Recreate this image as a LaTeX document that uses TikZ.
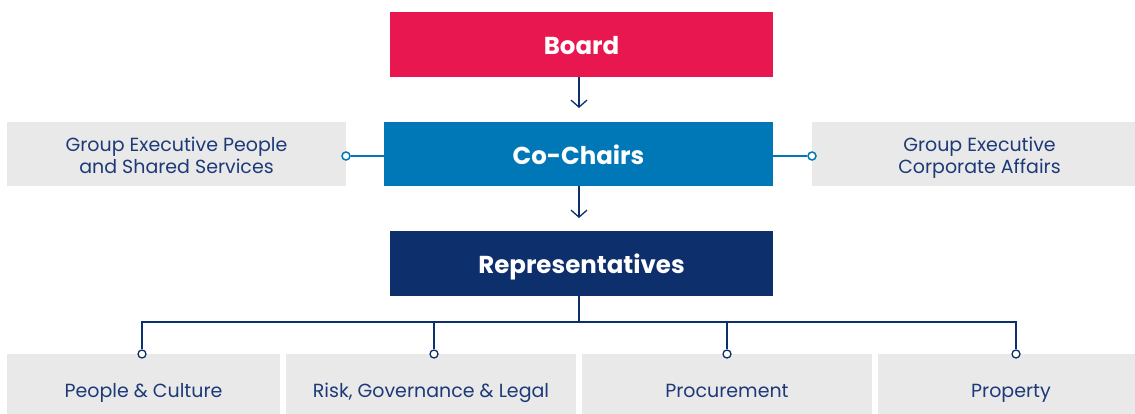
\documentclass[tikz,border=0pt]{standalone}
\usepackage{fontspec}
\setmainfont{Poppins}
\usetikzlibrary{arrows.meta}
\usetikzlibrary{positioning}
\definecolor{boardred}{HTML}{E8174F}
\definecolor{chairblue}{HTML}{0077B6}
\definecolor{repnavy}{HTML}{0D2F6B}
\definecolor{boxgrey}{HTML}{E9E9E9}
\definecolor{textnavy}{HTML}{1D3A78}
\newcommand{\sidetop}{\rule{0pt}{24pt}}
\newcommand{\sidebot}{\rule[-6.6pt]{0pt}{1pt}}
\tikzset{
   headbox/.style={minimum height=65pt, inner sep=0pt, text=white,
      text height=20.5pt, text depth=0pt,
      font=\fontsize{24.5}{28}\selectfont\bfseries},
   sidebox/.style={fill=boxgrey, minimum height=64pt, inner sep=0pt, text=textnavy,
      align=center, font=\fontsize{19}{21.6}\selectfont},
   unitbox/.style={fill=boxgrey, minimum height=68pt, inner sep=0pt, text=textnavy,
      text height=18.5pt, text depth=0pt,
      font=\fontsize{19}{21}\selectfont},
   downarrow/.style={draw=repnavy, line width=1.3pt,
      -{Straight Barb[length=7pt,width=16pt,line width=1.3pt]}},
   sidelink/.style={draw=chairblue, line width=1.5pt},
   unitlink/.style={draw=repnavy, line width=1.3pt},
   sidedot/.style={circle, draw=chairblue, line width=1.5pt, fill=white,
      minimum size=8pt, inner sep=0pt},
   unitdot/.style={circle, draw=repnavy, line width=1.3pt, fill=white,
      minimum size=8pt, inner sep=0pt},
    }
\begin{document}
\begin{tikzpicture}[x=1pt,y=-1pt]
            \useasboundingbox (0,0) rectangle (1135,414);
            % top chain
            \node[headbox, fill=boardred, minimum width=383pt](board) at (581.5,44.5) {Board};
            \node[headbox, fill=chairblue, minimum width=389pt, minimum height=64pt](chairs) at (578.5,154) {Co-Chairs};
            \node[headbox, fill=repnavy, minimum width=383pt](reps) at (581.5,263.5) {Representatives};
            \node[sidebox, minimum width=339pt](peoplesvc) at (176.5,154) {\sidetop Group Executive People\\and Shared Services\sidebot};
            \node[sidebox, minimum width=335pt](corpaff) at (979.5,154) {\sidetop Group Executive\\Corporate Affairs\sidebot};
            % bottom units
            \node[unitbox, minimum width=273pt](culture) at (143.5,388) {People \& Culture};
            \node[unitbox, minimum width=290pt](risk) at (431,388) {Risk, Governance \& Legal};
            \node[unitbox, minimum width=290pt](procure) at (727,388) {Procurement};
            \node[unitbox, minimum width=257pt](property) at (1006.5,388) {\hspace*{9pt}Property};
            % arrows
            \coordinate (a1) at (579,77);
            \coordinate (a2) at (579,108);
            \coordinate (b1) at (579,186);
            \coordinate (b2) at (579,218);
            \draw[downarrow](a1)to(a2);
            \draw[downarrow](b1)to(b2);
            % side links
            \node[sidedot](ldot) at (346,156) {};
            \node[sidedot](rdot) at (812,156) {};
            \draw[sidelink](ldot)to(ldot -| chairs.west);
            \draw[sidelink](rdot)to(rdot -| chairs.east);
            % tree to units
            \coordinate (fork) at (579,322);
            \node[unitdot](d1) at (142,354) {};
            \node[unitdot](d2) at (434,354) {};
            \node[unitdot](d3) at (727,354) {};
            \node[unitdot](d4) at (1016,354) {};
            \draw[unitlink](reps.south -| fork)to(fork);
            \draw[unitlink](d1)|-(fork);
            \draw[unitlink](d4)|-(fork);
            \draw[unitlink](d2)to(d2 |- fork);
            \draw[unitlink](d3)to(d3 |- fork);
        \end{tikzpicture}
\end{document}
